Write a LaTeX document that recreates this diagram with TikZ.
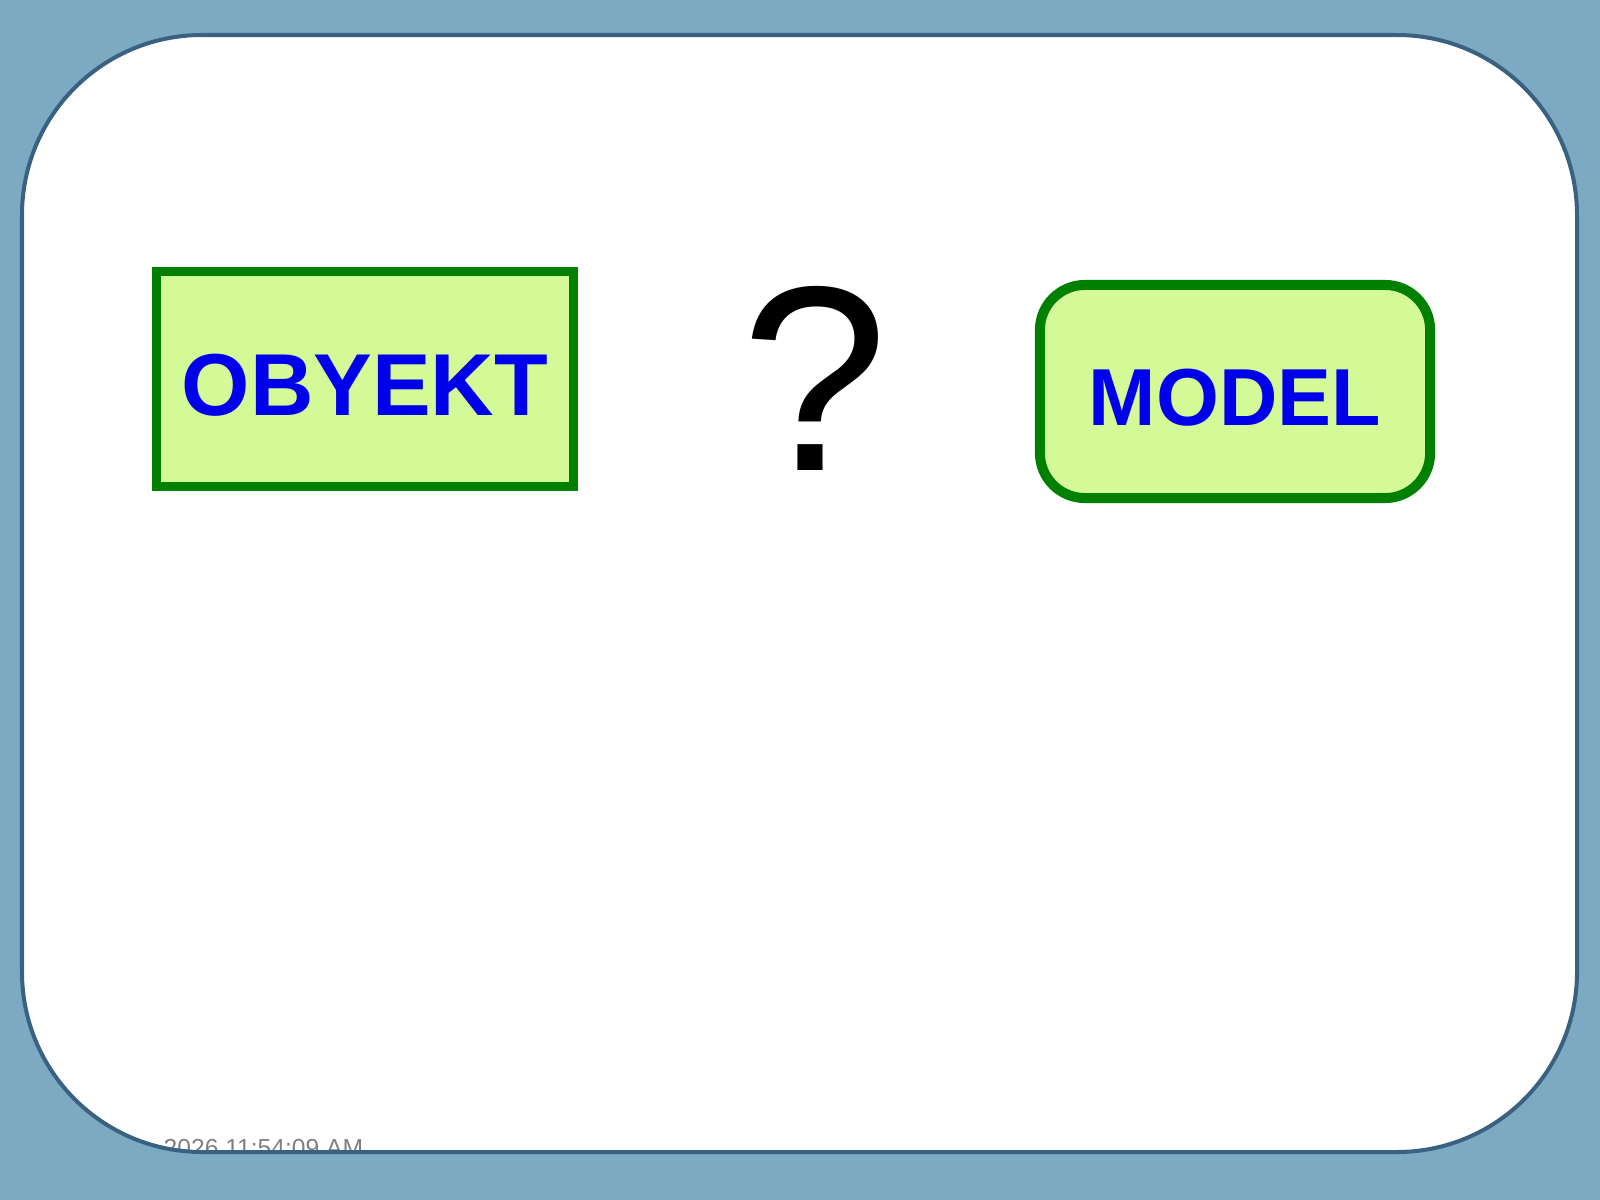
\documentclass[tikz,border=0pt]{standalone}
\usepackage{fontspec}
\setmainfont{Liberation Sans}

\definecolor{sky}{RGB}{124,170,194}
\definecolor{rim}{RGB}{58,98,128}
\definecolor{leaf}{RGB}{0,128,0}
\definecolor{lime}{RGB}{212,250,152}
\definecolor{ink}{RGB}{0,0,235}

\begin{document}
\begin{tikzpicture}[x=0.01cm,
            y=-0.01cm,
            box/.style={draw=leaf, fill=lime, text=ink, font=\bfseries},
            objbox/.style={box, line width=0.09cm, minimum width=4.16cm, minimum height=2.15cm},
            modelbox/.style={box, line width=0.1cm, rounded corners=0.45cm,
                             minimum width=3.9cm, minimum height=2.13cm}]

        \useasboundingbox (0,0) rectangle (1600,1200);

        % white sheet
        \fill[white, rounded corners=1.8cm] (22,35) rectangle (1577,1152);

        \node[objbox, text height=20.5pt, text depth=0pt]   (obyekt) at (365,379)   {\fontsize{25}{30}\selectfont OBYEKT};
        \node           (ask)    at (815,378)   {\fontsize{75}{80}\selectfont ?};
        \node[modelbox, text height=19.2pt, text depth=0pt] (model)  at (1235,391.5) {\fontsize{23}{27}\selectfont MODEL};

        \node[anchor=base west, text=gray, inner sep=0pt] (stamp) at (163,1156)
             {\fontsize{7}{8}\selectfont 2026 11:54:09 AM};

        % backdrop round the sheet
        \fill[sky, even odd rule] (0,0) rectangle (1600,1200)
             {[rounded corners=1.8cm] (22,35) rectangle (1577,1152)};
        \draw[rim, line width=0.04cm, rounded corners=1.8cm] (22,35) rectangle (1577,1152);

    \end{tikzpicture}
\end{document}
